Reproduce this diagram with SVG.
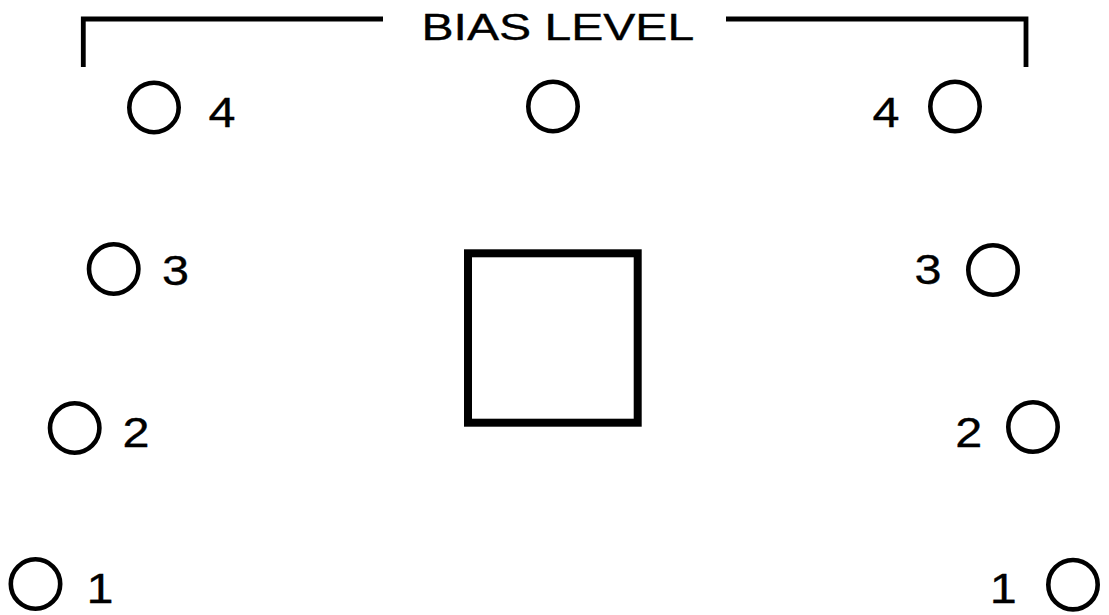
<svg xmlns="http://www.w3.org/2000/svg" width="1109" height="615" viewBox="0 0 1109 615">
<style>
.c{fill:none;stroke:#000;stroke-width:4.6}
.t{font-family:"Liberation Sans",Arial,sans-serif;font-size:37px;fill:#000;stroke:#000;stroke-width:0.35}
.d{font-family:"Liberation Sans",Arial,sans-serif;font-size:43px;fill:#000;stroke:#000;stroke-width:0.35}
.b{fill:none;stroke:#000;stroke-width:4.8;stroke-linejoin:miter}
</style>
<rect width="1109" height="615" fill="#fff"/>
<g id="bias-level">
<path class="b" d="M83.3 67V19H383M726 19H1026V67"/>
<text class="t" transform="translate(421.5,39.5) scale(1.3,1)">BIAS LEVEL</text>
</g>
<g id="center-top"><circle class="c" cx="553" cy="106.5" r="24.7"/></g>
<g id="square"><rect x="468" y="253.3" width="169.7" height="169.4" fill="none" stroke="#000" stroke-width="8"/></g>
<g id="left-4"><circle class="c" cx="154" cy="107.5" r="24.7"/><text class="d" transform="translate(208.4,126.5) scale(1.13,1)">4</text></g>
<g id="left-3"><circle class="c" cx="113.7" cy="269" r="24.7"/><text class="d" transform="translate(162,285) scale(1.13,1)">3</text></g>
<g id="left-2"><circle class="c" cx="74.7" cy="428" r="24.7"/><text class="d" transform="translate(122.6,446.7) scale(1.13,1)">2</text></g>
<g id="left-1"><circle class="c" cx="35.5" cy="584" r="24.7"/><text class="d" transform="translate(86.4,603.3) scale(1.13,1)">1</text></g>
<g id="right-4"><circle class="c" cx="955" cy="106.5" r="24.7"/><text class="d" transform="translate(872.4,126.5) scale(1.13,1)">4</text></g>
<g id="right-3"><circle class="c" cx="993" cy="270" r="24.7"/><text class="d" transform="translate(914.6,283.5) scale(1.13,1)">3</text></g>
<g id="right-2"><circle class="c" cx="1033" cy="427" r="24.7"/><text class="d" transform="translate(955.3,446.7) scale(1.13,1)">2</text></g>
<g id="right-1"><circle class="c" cx="1073" cy="584.7" r="24.7"/><text class="d" transform="translate(989.7,602.7) scale(1.13,1)">1</text></g>
</svg>
